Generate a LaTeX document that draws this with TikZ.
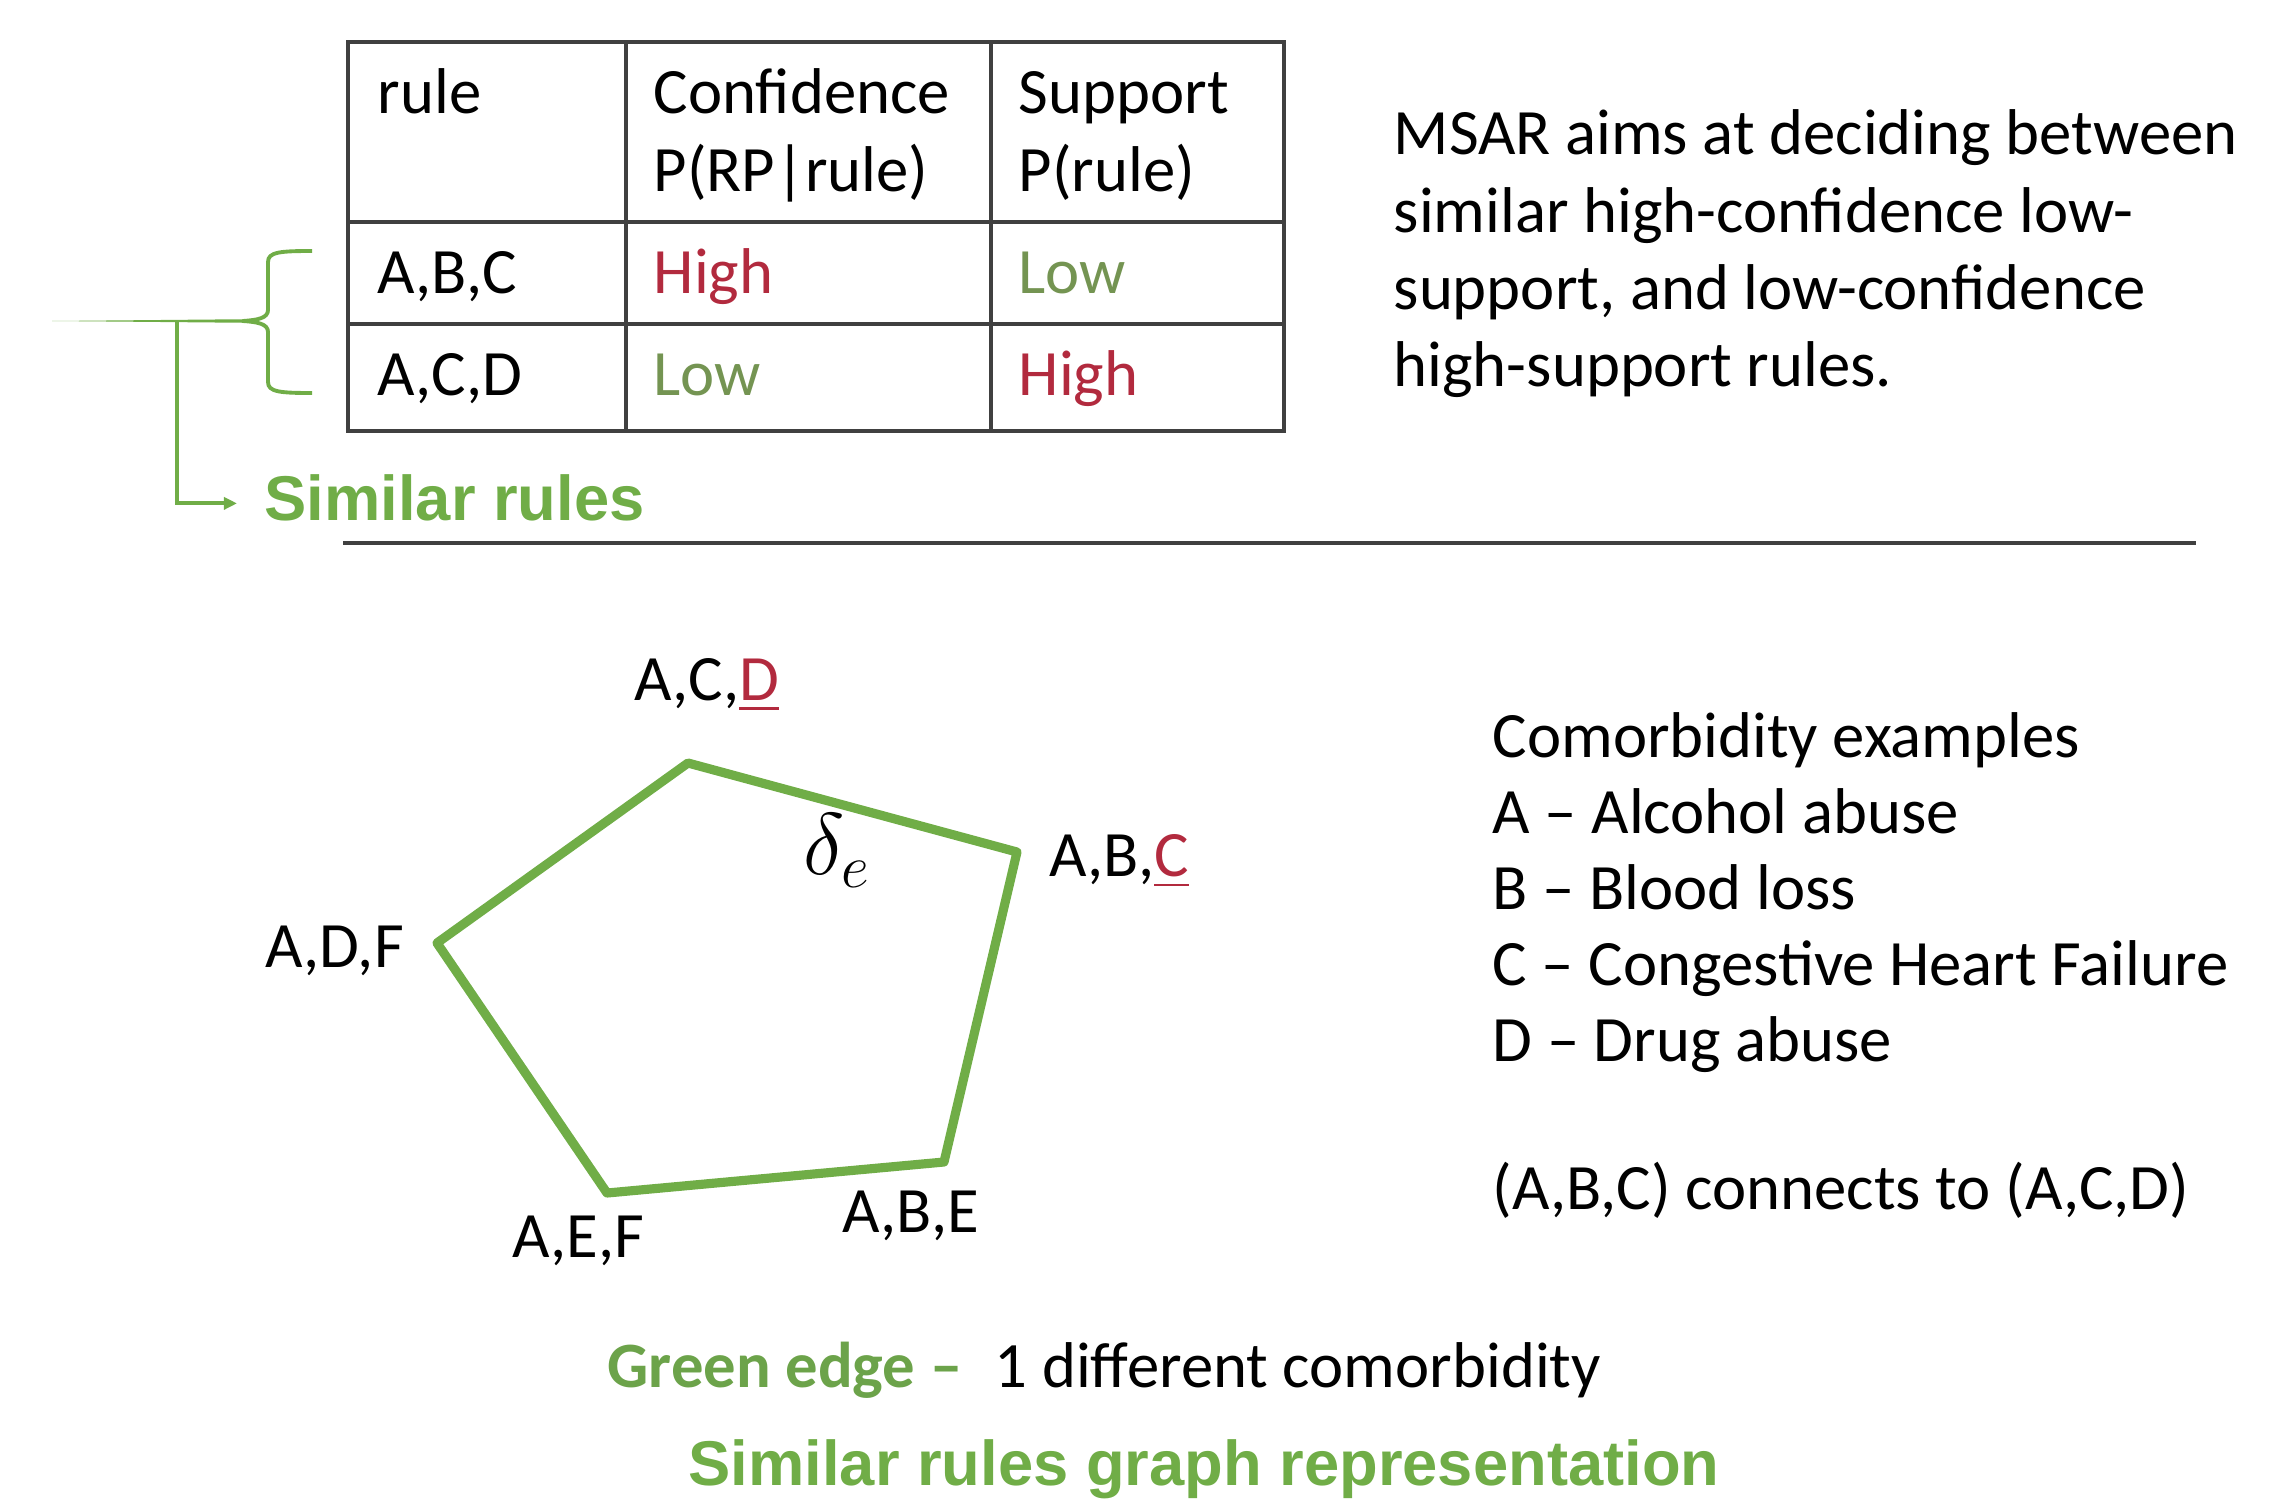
\documentclass[tikz,border=0pt]{standalone}
\usepackage{xcolor}
\usepackage{amsmath}
\usepackage{fontspec}
\setmainfont{Carlito}
\newfontfamily\arialfont{Liberation Sans}
\usepackage{tikz}
\usetikzlibrary{arrows.meta}

\definecolor{officegreen}{RGB}{112,173,71}
\definecolor{hired}{RGB}{178,42,62}
\definecolor{logreen}{RGB}{116,148,82}
\definecolor{keygreen}{RGB}{108,163,74}
\definecolor{gridgray}{RGB}{64,64,64}

\newcommand{\diffmark}[1]{\textcolor{hired}{\underline{#1}}}

\begin{document}
\begin{tikzpicture}[x=0.01cm, y=-0.01cm,
    every node/.style={inner sep=0pt, anchor=base west, font=\fontsize{18.4}{22}\selectfont},
    tableline/.style={draw=gridgray, line width=1.1pt},
    bracket/.style={draw=officegreen, line width=1.1pt},
    simedge/.style={draw=officegreen, line width=2.6pt, line join=round},
    titletext/.style={text=officegreen, font=\arialfont\bfseries\fontsize{18}{21}\selectfont}]
    \useasboundingbox (0,0) rectangle (2270,1500);

    % rules table
    \draw[tableline] (348,42) rectangle (1284,431);
    \draw[tableline] (626,42) -- (626,431) (991,42) -- (991,431);
    \draw[tableline] (348,222) -- (1284,222) (348,324) -- (1284,324);
    \node (rulehead) at (377,114) {rule};
    \node (confhead) at (653,114) {Confidence};
    \node (confprob) at (653,192) {P(RP|rule)};
    \node (supphead) at (1018,114) {Support};
    \node (suppprob) at (1018,192) {P(rule)};
    \node (ruleabc) at (377,294) {A,B,C};
    \node[text=hired] (confabc) at (653,294) {High};
    \node[text=logreen] (suppabc) at (1018,294) {Low};
    \node (ruleacd) at (377,395) {A,C,D};
    \node[text=logreen] (confacd) at (653,395) {Low};
    \node[text=hired] (suppacd) at (1018,395) {High};

    % brace and pointer
    \coordinate (bracetip) at (243,321);
    \coordinate (tailjoin) at (177,321);
    \draw[bracket] (312,251) .. controls (280,251) and (268,252) .. (268,262) -- (268,310)
        .. controls (268,318) and (258,320) .. (bracetip)
        .. controls (258,322) and (268,324) .. (268,332) -- (268,382)
        .. controls (268,392) and (280,393) .. (312,393);
    \fill[officegreen] (52,321) -- ([yshift=0.5pt]bracetip) -- ([yshift=-0.5pt]bracetip) -- cycle;
    \node[titletext] (simrules) at (264,520) {Similar rules};
    \draw[bracket, -{Triangle[length=0.13cm, width=0.12cm]}] (tailjoin) |- ([xshift=-0.27cm, yshift=-0.06cm]simrules.west);

    \draw[draw=gridgray, line width=1.1pt] (343,543) -- (2196,543);

    \foreach \txt [count=\i from 0] in {MSAR aims at deciding between, similar high-confidence low-, {support, and low-confidence}, high-support rules.}
        \node (msar\i) at (1393,155+77*\i) {\txt};

    % similar rules graph
    \coordinate (vacd) at (688,763);
    \coordinate (vabc) at (1017,852);
    \coordinate (vabe) at (944,1162);
    \coordinate (vaef) at (607,1193);
    \coordinate (vadf) at (437,943);
    \draw[simedge] (vacd) -- (vabc) -- (vabe) -- (vaef) -- (vadf) -- cycle;
    \node (labelacd) at (634,700) {A,C,\diffmark{D}};
    \node (labelabc) at (1049,876) {A,B,\diffmark{C}};
    \node (labeladf) at (265,967) {A,D,F};
    \node (labelaef) at (512,1257) {A,E,F};
    \node (labelabe) at (842,1232) {A,B,E};
    \node[font=\fontsize{24}{28}\selectfont] (deltae) at (803,874) {$\delta_e$};

    \node (comohead) at (1492,757) {Comorbidity examples};
    \node (comoa) at (1492,833) {A – Alcohol abuse};
    \node (comob) at (1492,909) {B – Blood loss};
    \node (comoc) at (1492,985) {C – Congestive Heart Failure};
    \node (comod) at (1492,1061) {D – Drug abuse};
    \node (connects) at (1492,1209) {(A,B,C) connects to (A,C,D)};

    \node[text=keygreen, font=\bfseries\fontsize{18.4}{22}\selectfont] (edgekey) at (607,1387) {Green edge –};
    \node (edgedesc) at (994,1387) {1 different comorbidity};
    \node[titletext] (graphtitle) at (688,1485) {Similar rules graph representation};
\end{tikzpicture}
\end{document}
